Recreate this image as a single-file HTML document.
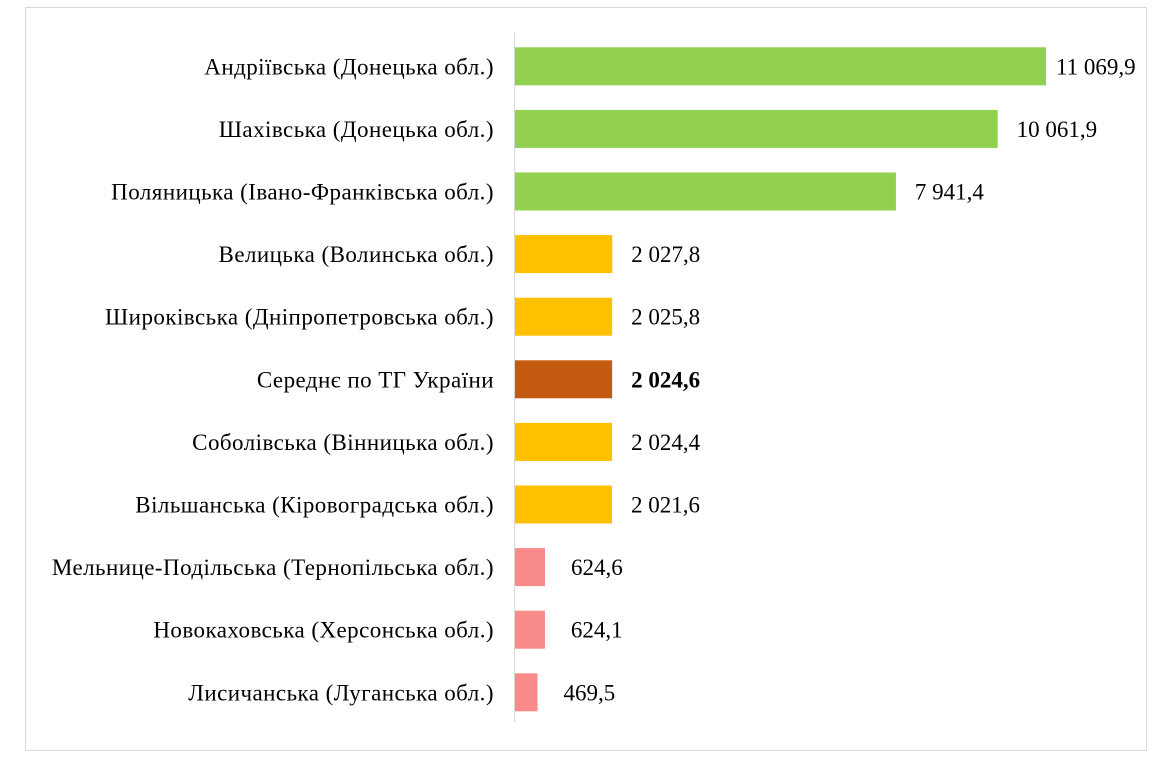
<!DOCTYPE html>
<html><head><meta charset="utf-8"><style>
html,body{margin:0;padding:0;background:#fff;}
svg{display:block;font-family:"Liberation Serif","DejaVu Serif",serif;}
</style></head><body>
<svg id="chart" width="1167" height="760">
<rect x="25.5" y="7.5" width="1121" height="743" fill="#fff" stroke="#d9d9d9"/>
<line x1="514.5" y1="33" x2="514.5" y2="722" stroke="#d9d9d9"/>
<g id="bars"></g>
</svg>
<script>
const categories = ["Андріївська (Донецька обл.)","Шахівська (Донецька обл.)","Поляницька (Івано-Франківська обл.)","Велицька (Волинська обл.)","Широківська (Дніпропетровська обл.)","Середнє по ТГ України","Соболівська (Вінницька обл.)","Вільшанська (Кіровоградська обл.)","Мельнице-Подільська (Тернопільська обл.)","Новокаховська (Херсонська обл.)","Лисичанська (Луганська обл.)"];
const values = [11069.9,10061.9,7941.4,2027.8,2025.8,2024.6,2024.4,2021.6,624.6,624.1,469.5];
const valueLabels = ["11 069,9","10 061,9","7 941,4","2 027,8","2 025,8","2 024,6","2 024,4","2 021,6","624,6","624,1","469,5"];
const groups = ["high","high","high","mid","mid","avg","mid","mid","low","low","low"];
const colors = {high:"#92D050",mid:"#FFC000",avg:"#C55A11",low:"#F88A8A"};
const x0 = 515, pxPerUnit = 531/11069.9;
const xScale = v => x0 + v*pxPerUnit;
const yTop = 35, step = 62.6, barH = 38;
const yCenter = i => yTop + step*(i+0.5);
const ns = "http://www.w3.org/2000/svg";
const g = document.getElementById("bars");
categories.forEach((c,i)=>{
  const cy = yCenter(i);
  const r = document.createElementNS(ns,"rect");
  r.setAttribute("x", x0);
  r.setAttribute("y", cy-barH/2);
  r.setAttribute("width", xScale(values[i])-x0);
  r.setAttribute("height", barH);
  r.setAttribute("fill", colors[groups[i]]);
  
  
  g.appendChild(r);
  const t = document.createElementNS(ns,"text");
  t.setAttribute("x", 494);
  t.setAttribute("y", cy+8);
  t.setAttribute("text-anchor","end");
  t.setAttribute("font-size","23");
  t.setAttribute("letter-spacing","0.45");
  t.textContent = c;
  
  
  g.appendChild(t);
  const v = document.createElementNS(ns,"text");
  let vx = xScale(values[i]) + (values[i] < 1000 ? 26 : 19);
  if (vx > 1056) vx = 1056;
  v.setAttribute("x", vx);
  v.setAttribute("y", cy+8);
  v.setAttribute("font-size","23");
  if (groups[i]==="avg") v.setAttribute("font-weight","bold");
  v.textContent = valueLabels[i];
  
  
  g.appendChild(v);
});
</script>
</body></html>
